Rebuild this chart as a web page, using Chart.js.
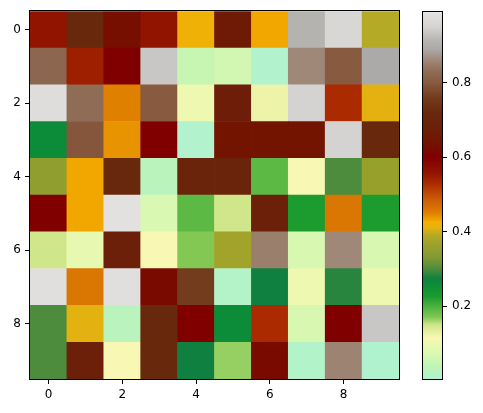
<!DOCTYPE html>
<html lang="en">
<head>
    <meta charset="UTF-8">
    <title>Heatmap</title>
    <script src="https://cdn.jsdelivr.net/npm/chart.js"></script>
    <style>
        body { margin: 0; background: #fff; }
        #wrap { position: relative; width: 483px; height: 413px; }
        #heat { position: absolute; left: 0; top: 0; }
        #cbar { position: absolute; left: 410px; top: 0; }
    </style>
</head>
<body>
    <div id="wrap">
        <canvas id="heat" width="410" height="413"></canvas>
        <canvas id="cbar" width="73" height="413"></canvas>
    </div>

    <script>
        // grid values, row 0 at the top
        const rows = [0, 1, 2, 3, 4, 5, 6, 7, 8, 9];
        const cols = [0, 1, 2, 3, 4, 5, 6, 7, 8, 9];
        const values = [
            [0.56, 0.72, 0.63, 0.56, 0.42, 0.66, 0.43, 0.91, 0.96, 0.39],
            [0.82, 0.545, 0.60, 0.935, 0.05, 0.062, 0.01, 0.86, 0.80, 0.89],
            [0.975, 0.83, 0.45, 0.80, 0.10, 0.67, 0.125, 0.95, 0.53, 0.41],
            [0.26, 0.795, 0.44, 0.60, 0.01, 0.64, 0.64, 0.64, 0.95, 0.72],
            [0.35, 0.43, 0.72, 0.03, 0.70, 0.70, 0.19, 0.115, 0.30, 0.36],
            [0.60, 0.43, 0.985, 0.072, 0.19, 0.15, 0.68, 0.225, 0.46, 0.225],
            [0.15, 0.09, 0.68, 0.115, 0.17, 0.37, 0.85, 0.07, 0.86, 0.07],
            [0.98, 0.46, 0.98, 0.62, 0.76, 0.015, 0.275, 0.10, 0.285, 0.10],
            [0.30, 0.41, 0.03, 0.72, 0.60, 0.26, 0.53, 0.07, 0.60, 0.935],
            [0.30, 0.68, 0.115, 0.72, 0.275, 0.165, 0.62, 0.012, 0.855, 0.008]
        ];
        const axisTicks = [0, 2, 4, 6, 8];
        const cbarTicks = [0.2, 0.4, 0.6, 0.8];
        const VMIN = 0.005;
        const VMAX = 0.989;

        // colormap stops
        const cmapPos = [0.005, 0.04, 0.07, 0.10, 0.115, 0.15, 0.17, 0.19, 0.225, 0.26, 0.275, 0.30, 0.33, 0.36, 0.39, 0.41, 0.425, 0.45, 0.49, 0.53, 0.56, 0.60, 0.64, 0.68, 0.72, 0.76, 0.80, 0.83, 0.86, 0.89, 0.91, 0.95, 0.989];
        const cmapCol = ['#b0f2d0', '#bef5b4', '#d8f8b2', '#eef8b0', '#f8f8b4', '#d0e68a', '#84c854', '#5cba44', '#1c9c2e', '#0c8c38', '#108040', '#4c8c3c', '#809a34', '#98a02c', '#b5aa25', '#e3b210', '#f5b000', '#e08000', '#c85808', '#ab2a00', '#901400', '#800000', '#721400', '#6c200a', '#68280c', '#733c1c', '#885a40', '#8e6c55', '#a08878', '#acaaa8', '#b5b3b0', '#d4d3d2', '#e4e3e2'];

        function hexRgb(h) {
            return [parseInt(h.slice(1, 3), 16), parseInt(h.slice(3, 5), 16), parseInt(h.slice(5, 7), 16)];
        }

        function colorFor(v) {
            if (v <= cmapPos[0]) return cmapCol[0];
            for (let i = 1; i < cmapPos.length; i++) {
                if (v <= cmapPos[i]) {
                    const t = (v - cmapPos[i - 1]) / (cmapPos[i] - cmapPos[i - 1]);
                    const a = hexRgb(cmapCol[i - 1]), b = hexRgb(cmapCol[i]);
                    const c = a.map((x, k) => Math.round(x + (b[k] - x) * t));
                    return 'rgb(' + c.join(',') + ')';
                }
            }
            return cmapCol[cmapCol.length - 1];
        }

        Chart.defaults.font.family = 'DejaVu Sans';
        Chart.defaults.font.size = 12;
        Chart.defaults.color = '#000';

        // black frame round the plot area
        const framePlugin = {
            id: 'frame',
            afterDraw(chart) {
                const a = chart.chartArea;
                const ctx = chart.ctx;
                ctx.save();
                ctx.strokeStyle = '#000';
                ctx.lineWidth = 1;
                ctx.strokeRect(Math.round(a.left) - 0.5, Math.round(a.top) - 0.5,
                    Math.round(a.right - a.left) + 1, Math.round(a.bottom - a.top) + 1);
                ctx.restore();
            }
        };

        const tickGrid = { display: true, offset: false, drawOnChartArea: false, drawTicks: true, tickLength: 5, color: '#000', lineWidth: 1 };

        // heatmap cells as floating bars
        const cells = [];
        const cellColors = [];
        rows.forEach(r => {
            cols.forEach(c => {
                cells.push({ x: c, y: [r - 0.5, r + 0.5] });
                cellColors.push(colorFor(values[r][c]));
            });
        });

        new Chart(document.getElementById('heat'), {
            type: 'bar',
            data: {
                datasets: [{
                    data: cells,
                    backgroundColor: cellColors,
                    borderWidth: 0,
                    barPercentage: 1,
                    categoryPercentage: 1
                }]
            },
            options: {
                responsive: false,
                animation: false,
                layout: { padding: { left: 0, right: 11, top: 10, bottom: 0 } },
                plugins: { legend: { display: false }, tooltip: { enabled: false } },
                scales: {
                    x: {
                        type: 'linear',
                        offset: false,
                        min: -0.5,
                        max: 9.5,
                        afterBuildTicks: s => { s.ticks = axisTicks.map(v => ({ value: v })); },
                        afterFit: s => { s.height = 34; },
                        grid: tickGrid,
                        border: { display: false },
                        ticks: { padding: 4, maxRotation: 0, callback: v => String(v) }
                    },
                    y: {
                        type: 'linear',
                        reverse: true,
                        offset: false,
                        min: -0.5,
                        max: 9.5,
                        afterBuildTicks: s => { s.ticks = axisTicks.map(v => ({ value: v })); },
                        afterFit: s => { s.width = 30; },
                        grid: tickGrid,
                        border: { display: false },
                        ticks: { padding: 4, callback: v => String(v) }
                    }
                }
            },
            plugins: [framePlugin]
        });

        // colour bar
        new Chart(document.getElementById('cbar'), {
            type: 'bar',
            data: {
                labels: ['cb'],
                datasets: [{
                    data: [[VMIN, VMAX]],
                    borderWidth: 0,
                    barPercentage: 1,
                    categoryPercentage: 1,
                    backgroundColor: ctx => {
                        const chart = ctx.chart;
                        if (!chart.chartArea) return '#ccc';
                        const y = chart.scales.y;
                        const g = chart.ctx.createLinearGradient(0, y.getPixelForValue(VMIN), 0, y.getPixelForValue(VMAX));
                        cmapPos.forEach((p, i) => {
                            const t = Math.min(1, Math.max(0, (p - VMIN) / (VMAX - VMIN)));
                            g.addColorStop(t, cmapCol[i]);
                        });
                        return g;
                    }
                }]
            },
            options: {
                responsive: false,
                animation: false,
                layout: { padding: { left: 13, right: 0, top: 10, bottom: 34 } },
                plugins: { legend: { display: false }, tooltip: { enabled: false } },
                scales: {
                    x: { display: false },
                    y: {
                        position: 'right',
                        min: VMIN,
                        max: VMAX,
                        afterBuildTicks: s => { s.ticks = cbarTicks.map(v => ({ value: v })); },
                        afterFit: s => { s.width = 41; },
                        grid: tickGrid,
                        border: { display: false },
                        ticks: { padding: 5, callback: v => v.toFixed(1) }
                    }
                }
            },
            plugins: [framePlugin]
        });
    </script>
</body>
</html>
